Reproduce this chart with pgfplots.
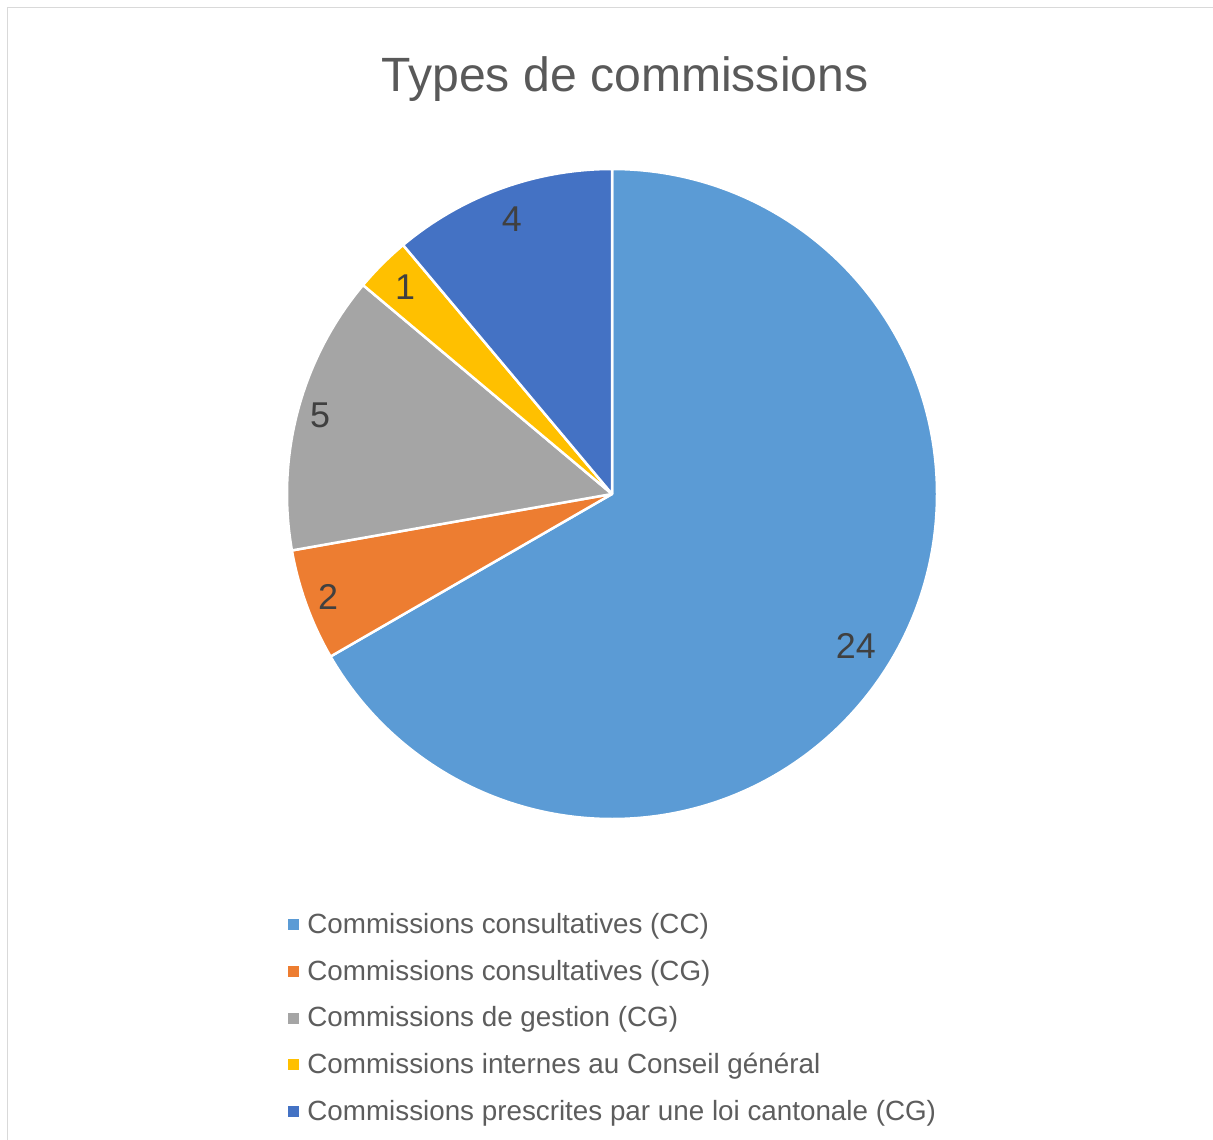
\documentclass[border=0pt]{standalone}
\usepackage{fontspec}
\setmainfont{Liberation Sans}
\usepackage{pgfplots}
\usepackage{pgfplotstable}
\pgfplotsset{compat=1.18}

\definecolor{ccBlue}{HTML}{5B9BD5}
\definecolor{ccOrange}{HTML}{ED7D31}
\definecolor{ccGray}{HTML}{A5A5A5}
\definecolor{ccYellow}{HTML}{FFC000}
\definecolor{ccDark}{HTML}{4472C4}
\definecolor{titlegray}{HTML}{595959}
\definecolor{labelgray}{HTML}{404040}
\definecolor{framegray}{HTML}{D9D9D9}

% nombre de commissions par type (dans l'ordre horaire depuis midi)
\pgfplotstableread{
value colour   labelpos labelturn
24    ccBlue   0.885    -2
2     ccOrange 0.93     0
5     ccGray   0.93     0
1     ccYellow 0.90     0
4     ccDark   0.90     0
}\piedata

\begin{document}
\begin{tikzpicture}
  \useasboundingbox (0bp,0bp) rectangle (1213bp,1140bp);
  \fill[white] (0bp,0bp) rectangle (1213bp,1140bp);
  \draw[framegray, line width=1.5bp] (7.5bp,0bp) -- (7.5bp,1132.5bp) -- (1213bp,1132.5bp);

  \node[anchor=base, text=titlegray, font=\fontsize{48.3}{50}\selectfont]
    at (625bp,1048bp) {Types de commissions};

  \begin{axis}[
      at={(612bp,646bp)}, anchor=center,
      width=650bp, height=650bp, scale only axis,
      xmin=-1, xmax=1, ymin=-1, ymax=1,
      hide axis, disabledatascaling,
      clip=false,
      legend image code/.code={\fill[#1] (0bp,-3bp) rectangle (10bp,7bp);},
      legend cell align=left,
      legend style={
        draw=none, fill=none, inner sep=0pt, outer sep=0pt,
        at={(axis description cs:0.0015,-0.1454)}, anchor=north west,
        font=\fontsize{27.9}{30}\selectfont, text=labelgray!85!white,
        row sep=20.65bp, column sep=9bp,
        nodes={inner sep=0pt, text height=20bp, text depth=6bp},
      },
    ]
    \addlegendimage{ccBlue}
    \addlegendentry{Commissions consultatives (CC)}
    \addlegendimage{ccOrange}
    \addlegendentry{Commissions consultatives (CG)}
    \addlegendimage{ccGray}
    \addlegendentry{Commissions de gestion (CG)}
    \addlegendimage{ccYellow}
    \addlegendentry{Commissions internes au Conseil général}
    \addlegendimage{ccDark}
    \addlegendentry{Commissions prescrites par une loi cantonale (CG)}

    \pgfplotstablegetrowsof{\piedata}
    \pgfmathtruncatemacro\lastrow{\pgfplotsretval-1}
    \def\total{0}
    \pgfplotsforeachungrouped \i in {0,...,\lastrow}{
      \pgfplotstablegetelem{\i}{value}\of\piedata
      \pgfmathsetmacro\total{\total+\pgfplotsretval}
    }
    \def\cum{0}
    \pgfplotsforeachungrouped \i in {0,...,\lastrow}{
      \pgfplotstablegetelem{\i}{value}\of\piedata \let\val\pgfplotsretval
      \pgfplotstablegetelem{\i}{colour}\of\piedata \let\col\pgfplotsretval
      \pgfplotstablegetelem{\i}{labelpos}\of\piedata \let\lp\pgfplotsretval
      \pgfplotstablegetelem{\i}{labelturn}\of\piedata \let\lt\pgfplotsretval
      \pgfmathsetmacro\a{90-360*\cum/\total}
      \pgfmathsetmacro\b{90-360*(\cum+\val)/\total}
      \pgfmathsetmacro\m{(\a+\b)/2+\lt}
      \edef\temp{%
        \noexpand\fill[\col, draw=white, line width=2.5bp, line join=round]
          (axis cs:0,0) -- (axis cs:{cos(\a)},{sin(\a)})
          arc[start angle=\a, end angle=\b, radius=1] -- cycle;
        \noexpand\node[text=labelgray, font=\noexpand\fontsize{36}{36}\noexpand\selectfont]
          at (axis cs:{\lp*cos(\m)},{\lp*sin(\m)}) {\val};
      }
      \temp
      \pgfmathsetmacro\cum{\cum+\val}
    }
  \end{axis}
\end{tikzpicture}
\end{document}
